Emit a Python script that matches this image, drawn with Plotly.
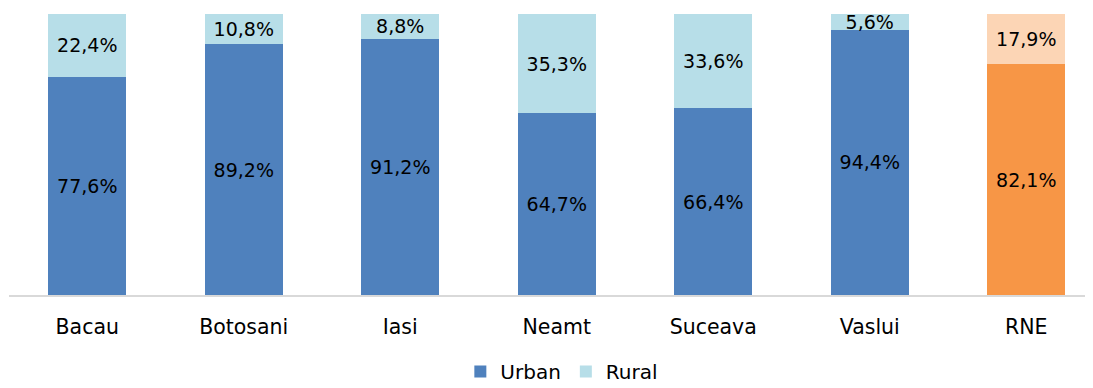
import plotly.graph_objects as go

categories = ["Bacau", "Botosani", "Iasi", "Neamt", "Suceava", "Vaslui", "RNE"]
urban = [77.6, 89.2, 91.2, 64.7, 66.4, 94.4, 82.1]
rural = [22.4, 10.8, 8.8, 35.3, 33.6, 5.6, 17.9]

FONT = "DejaVu Sans"
FS = 19
FS_AX = 20.5

def fmt(v):
    return f"{v:.1f}".replace(".", ",") + "%"

xs = list(range(len(categories)))
urban_colors = ["#4F81BD"] * 6 + ["#F79646"]
rural_colors = ["#B7DEE8"] * 6 + ["#FCD5B5"]

fig = go.Figure()
fig.add_trace(go.Bar(
    x=xs, y=urban, name="Urban", width=0.5,
    marker=dict(color=urban_colors, line=dict(width=0)),
    text=[fmt(v) for v in urban], textposition="inside", insidetextanchor="middle",
    textfont=dict(family=FONT, size=FS, color="black"), textangle=0,
))
fig.add_trace(go.Bar(
    x=xs, y=rural, name="Rural", width=0.5,
    marker=dict(color=rural_colors, line=dict(width=0)),
    text=[fmt(v) for v in rural], textposition="inside", insidetextanchor="middle",
    textfont=dict(family=FONT, size=FS, color="black"), textangle=0,
))
# page body has an 8px margin; figure is sized/offset to compensate
fig.update_layout(
    barmode="stack",
    width=1085, height=380,
    margin=dict(l=1, r=0, t=6, b=93, autoexpand=False),
    paper_bgcolor="white", plot_bgcolor="white",
    font=dict(family=FONT, size=FS, color="black"),
    uniformtext=dict(mode="show", minsize=FS),
    showlegend=True,
    legend=dict(orientation="h", x=0.51, xanchor="center", y=-0.272, yanchor="middle",
                font=dict(family=FONT, size=20), itemwidth=30, traceorder="normal"),
    xaxis=dict(range=[-0.5, -0.5 + 1084 / 156.5], tickvals=xs, ticktext=categories,
               showgrid=False, zeroline=False, showline=True, linecolor="#D9D9D9", linewidth=2,
               ticks="outside", ticklen=12, tickcolor="rgba(0,0,0,0)",
               tickfont=dict(family=FONT, size=FS_AX, color="black")),
    yaxis=dict(range=[0, 100], visible=False, showgrid=False),
)
fig.write_html("out.html")
